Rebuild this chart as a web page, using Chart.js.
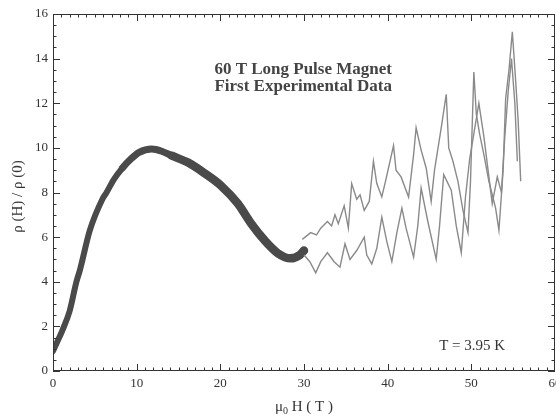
<!DOCTYPE html>
<html>
<head>
<meta charset="utf-8">
<script src="https://cdn.jsdelivr.net/npm/chart.js@4.4.0/dist/chart.umd.min.js"></script>
<style>
  html, body { margin: 0; padding: 0; background: #fff; overflow: hidden; }
  #wrap { width: 556px; height: 416px; }
</style>
</head>
<body>
<div id="wrap"><canvas id="magnetChart" width="556" height="416"></canvas></div>
<script>
// field (T) and resistance ratio
const lowFieldH   = [0, 0.5, 1.1, 2.0, 2.8, 3.2, 4.4, 5.9, 6.4, 7.3, 8.3, 9.3, 10.3, 11.8, 13.0, 14.2, 16.2, 18.2, 20.1, 22.1, 23.7, 25.3, 26.9, 28.4, 29.5, 30.0];
const lowFieldRho = [0.9, 1.3, 1.8, 2.7, 4.0, 4.5, 6.3, 7.7, 8.0, 8.6, 9.1, 9.5, 9.8, 9.95, 9.85, 9.65, 9.33, 8.84, 8.3, 7.5, 6.6, 5.85, 5.27, 5.05, 5.2, 5.4];

const upperH   = [29.8, 30.8, 31.5, 32.0, 32.8, 33.3, 33.7, 34.1, 34.8, 35.3, 35.7, 36.3, 36.7, 37.2, 37.8, 38.3, 38.7, 39.3, 39.8, 40.7, 41.0, 41.6, 42.5, 43.1, 43.4, 44.0, 44.6, 45.2, 45.6, 46.4, 47.0, 47.3, 47.8, 48.4, 49.0, 49.6, 49.9, 50.3, 50.6, 51.0, 51.5, 52.1, 52.9, 53.3, 53.8, 54.1, 54.5, 54.9, 55.3, 55.6, 55.9];
const upperRho = [5.9, 6.2, 6.1, 6.4, 6.7, 6.5, 7.0, 6.6, 7.4, 6.4, 8.4, 7.7, 7.9, 7.2, 7.6, 9.4, 8.4, 7.8, 8.6, 10.1, 9.0, 8.7, 7.8, 9.7, 10.9, 9.9, 9.1, 7.6, 9.0, 10.9, 12.4, 10.0, 9.4, 8.5, 7.2, 6.2, 8.5, 13.4, 11.5, 10.6, 9.7, 8.5, 7.3, 6.3, 9.0, 12.2, 13.5, 15.2, 13.0, 11.2, 8.5];

const lowerH   = [30.0, 30.7, 31.4, 32.0, 32.8, 33.6, 34.3, 34.9, 35.5, 36.3, 37.2, 37.5, 38.1, 38.7, 39.3, 39.9, 40.5, 41.1, 41.7, 42.2, 43.1, 43.6, 44.0, 44.8, 45.8, 46.2, 46.7, 47.6, 48.2, 48.8, 49.3, 49.8, 50.9, 51.5, 52.0, 52.5, 53.1, 53.6, 54.0, 54.4, 54.8, 55.2, 55.5];
const lowerRho = [5.2, 4.9, 4.4, 4.9, 5.3, 4.9, 4.65, 5.7, 5.0, 5.4, 6.0, 5.2, 4.8, 5.5, 6.9, 5.8, 4.9, 6.2, 7.3, 6.4, 5.1, 6.5, 8.2, 6.7, 5.0, 6.5, 8.8, 8.1, 6.5, 5.3, 7.8, 9.5, 12.0, 10.5, 9.0, 7.5, 8.7, 8.0, 10.5, 12.5, 14.0, 12.0, 9.4];

const xTickValues = [0, 10, 20, 30, 40, 50, 60];
const yTickValues = [0, 2, 4, 6, 8, 10, 12, 14, 16];

const toPoints = (xs, ys) => xs.map((x, i) => ({ x: x, y: ys[i] }));

const serif = '"Liberation Serif", "Times New Roman", serif';
const ink = '#333';

// frame with inward ticks on all four sides, plus the text labels
const framePlugin = {
    id: 'frame',
    afterDraw(chart) {
        const ctx = chart.ctx;
        const a = chart.chartArea;
        const xs = chart.scales.x, ys = chart.scales.y;
        ctx.save();
        ctx.strokeStyle = ink;
        ctx.lineWidth = 1;
        ctx.strokeRect(a.left + 0.5, a.top + 0.5, a.right - a.left - 1, a.bottom - a.top - 1);

        ctx.beginPath();
        for (let v = 0; v <= 60; v += 1) {
            const px = Math.min(Math.round(xs.getPixelForValue(v)) + 0.5, a.right - 0.5);
            const len = v % 10 === 0 ? 7 : 3.5;
            ctx.moveTo(px, a.bottom); ctx.lineTo(px, a.bottom - len);
            ctx.moveTo(px, a.top); ctx.lineTo(px, a.top + len);
        }
        for (let v = 0; v <= 16; v += 0.5) {
            const py = Math.round(ys.getPixelForValue(v)) + 0.5;
            const len = v % 2 === 0 ? 7 : 3.5;
            ctx.moveTo(a.left, py); ctx.lineTo(a.left + len, py);
            ctx.moveTo(a.right, py); ctx.lineTo(a.right - len, py);
        }
        ctx.stroke();

        ctx.textAlign = 'center';
        ctx.textBaseline = 'middle';
        const cx = xs.getPixelForValue(29.9);
        ctx.font = 'bold 17px ' + serif;
        ctx.fillStyle = '#444';
        ctx.fillText('60 T Long Pulse Magnet', cx, ys.getPixelForValue(13.5));
        ctx.fillText('First Experimental Data', cx, ys.getPixelForValue(12.75));

        ctx.fillStyle = ink;
        ctx.font = '15px ' + serif;
        ctx.fillText('T = 3.95 K', xs.getPixelForValue(50.1), ys.getPixelForValue(1.1));

        // x axis title with subscript
        ctx.textAlign = 'left';
        const mu = '\u03bc', rest = ' H ( T )';
        ctx.font = '15px ' + serif;
        const wMu = ctx.measureText(mu).width;
        const wRest = ctx.measureText(rest).width;
        ctx.font = '10px ' + serif;
        const wSub = ctx.measureText('0').width;
        const tx = xs.getPixelForValue(30) - (wMu + wSub + wRest) / 2;
        const ty = 407;
        ctx.font = '15px ' + serif;
        ctx.fillText(mu, tx, ty);
        ctx.font = '10px ' + serif;
        ctx.fillText('0', tx + wMu, ty + 4);
        ctx.font = '15px ' + serif;
        ctx.fillText(rest, tx + wMu + wSub, ty);

        // y axis title
        ctx.translate(18, (a.top + a.bottom) / 2 + 4);
        ctx.rotate(-Math.PI / 2);
        ctx.textAlign = 'center';
        ctx.font = '15px ' + serif;
        ctx.fillText('\u03c1 (H) / \u03c1 (0)', 0, 0);
        ctx.restore();
    }
};

const ctx = document.getElementById('magnetChart').getContext('2d');

new Chart(ctx, {
    type: 'scatter',
    data: {
        datasets: [
            {
                label: 'sweep A',
                data: toPoints(upperH, upperRho),
                showLine: true,
                borderColor: '#8a8a8a',
                borderWidth: 1.4,
                pointRadius: 0,
                tension: 0,
            },
            {
                label: 'sweep B',
                data: toPoints(lowerH, lowerRho),
                showLine: true,
                borderColor: '#8a8a8a',
                borderWidth: 1.4,
                pointRadius: 0,
                tension: 0,
            },
            {
                label: 'low field',
                data: toPoints(lowFieldH, lowFieldRho),
                showLine: true,
                borderColor: '#4a4a4a',
                borderWidth: 7,
                pointRadius: 0,
                cubicInterpolationMode: 'monotone',
                borderCapStyle: 'round',
                borderJoinStyle: 'round',
                // noisier (wider) band at higher field
                segment: {
                    borderWidth: (c) => (c.p0.parsed.x < 8 ? 6 : c.p0.parsed.x < 14 ? 7 : 8.5),
                },
            },
        ],
    },
    options: {
        responsive: false,
        animation: false,
        layout: { autoPadding: false, padding: { top: 14, right: 1, left: 0, bottom: 0 } },
        plugins: {
            legend: { display: false },
            tooltip: { enabled: false },
        },
        scales: {
            x: {
                type: 'linear',
                min: 0,
                max: 60,
                afterFit: (s) => { s.height = 45; s.paddingLeft = 0; s.paddingRight = 0; },
                afterBuildTicks: (s) => { s.ticks = xTickValues.map(v => ({ value: v })); },
                grid: { display: false, drawTicks: false },
                border: { display: false },
                ticks: { padding: 5, color: ink, font: { family: serif, size: 13 }, maxRotation: 0 },
            },
            y: {
                type: 'linear',
                min: 0,
                max: 16,
                afterFit: (s) => { s.width = 53; s.paddingTop = 0; s.paddingBottom = 0; },
                afterBuildTicks: (s) => { s.ticks = yTickValues.map(v => ({ value: v })); },
                grid: { display: false, drawTicks: false },
                border: { display: false },
                ticks: { padding: 5, color: ink, font: { family: serif, size: 13 } },
            },
        },
    },
    plugins: [framePlugin],
});
</script>
</body>
</html>
